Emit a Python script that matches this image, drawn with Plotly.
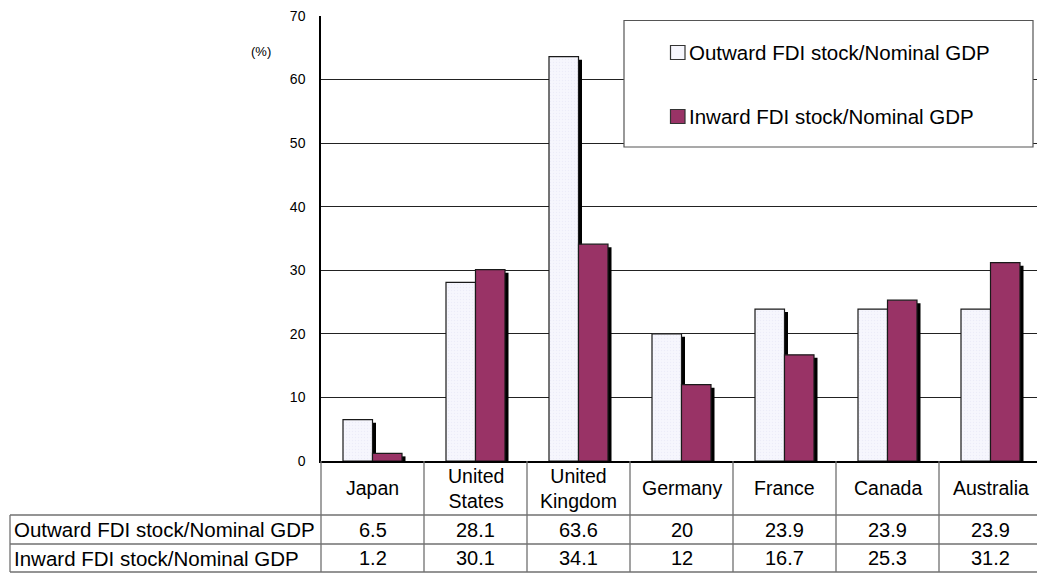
import plotly.graph_objects as go

# ---------------- data ----------------
categories = ["Japan", "United States", "United Kingdom", "Germany", "France", "Canada", "Australia"]
series_names = ["Outward FDI stock/Nominal GDP", "Inward FDI stock/Nominal GDP"]
outward = [6.5, 28.1, 63.6, 20, 23.9, 23.9, 23.9]
inward = [1.2, 30.1, 34.1, 12, 16.7, 25.3, 31.2]
y_ticks = [0, 10, 20, 30, 40, 50, 60, 70]
unit_label = "(%)"

# ---------------- layout geometry ----------------
W, H = 1037, 573
ML, MR, MT, MB = 321, 0, 16, 112
PW, PH = W - ML - MR, H - MT - MB
CAT_PX = 103.0
XR = [-0.5, -0.5 + PW / CAT_PX]
YR = [0, 70]

FONT = "Liberation Sans, Arial, sans-serif"
OUT_FILL = "#f6f6fd"
IN_FILL = "#993366"
EDGE = "#1a1a1a"
TABLE_LINE = "#707070"


def px_x(px):
    return (px - ML) / PW


def px_y(py):
    return (H - MB - py) / PH


xs = list(range(len(categories)))
bw = 29.5 / CAT_PX
shadow_dx = 3.5 / CAT_PX
shadow_dy = 3.0 * (YR[1] - YR[0]) / PH

fig = go.Figure()

# shadows + bars
for vals, off, fill, name in [(outward, -bw, OUT_FILL, series_names[0]),
                              (inward, 0.0, IN_FILL, series_names[1])]:
    fig.add_trace(go.Bar(
        x=xs, y=[max(v - shadow_dy, 0) for v in vals], width=bw, offset=off + shadow_dx,
        marker=dict(color="#000000", line=dict(width=0)), showlegend=False, hoverinfo="skip"))
    mk = dict(color=fill, line=dict(color=EDGE, width=1.2))
    if fill == OUT_FILL:
        mk["pattern"] = dict(shape=".", fgcolor="#e2e2f4", bgcolor=OUT_FILL, size=3, solidity=0.2)
    fig.add_trace(go.Bar(x=xs, y=vals, width=bw, offset=off, name=name, marker=mk,
                         showlegend=False))

shapes = []
annotations = []

# table lines
row_y = [461, 515, 544, 572]
bounds = [i - 0.5 for i in range(len(categories) + 1)]
for b in bounds[1:-1]:
    shapes.append(dict(type="line", xref="x", yref="paper", x0=b, x1=b,
                       y0=px_y(row_y[0]), y1=px_y(row_y[3]),
                       line=dict(color=TABLE_LINE, width=1.3)))
shapes.append(dict(type="line", xref="paper", yref="paper", x0=0, x1=0,
                   y0=px_y(row_y[0]), y1=px_y(row_y[3]),
                   line=dict(color=TABLE_LINE, width=1.3)))
shapes.append(dict(type="line", xref="paper", yref="paper", x0=px_x(10), x1=px_x(10),
                   y0=px_y(row_y[1]), y1=px_y(row_y[3]),
                   line=dict(color=TABLE_LINE, width=1.3)))
for ry in row_y[1:]:
    shapes.append(dict(type="line", xref="paper", yref="paper", x0=px_x(10), x1=1,
                       y0=px_y(ry), y1=px_y(ry),
                       line=dict(color=TABLE_LINE, width=1.3)))

# header labels
for i, c in enumerate(categories):
    annotations.append(dict(xref="x", yref="paper", x=i, y=px_y((row_y[0] + row_y[1]) / 2),
                            text=c.replace(" ", "<br>"), showarrow=False,
                            xanchor="center", yanchor="middle",
                            font=dict(family=FONT, size=19.5, color="#000")))
# data rows
for r, (name, vals) in enumerate(zip(series_names, [outward, inward])):
    yc = px_y((row_y[r + 1] + row_y[r + 2]) / 2)
    annotations.append(dict(xref="paper", yref="paper", x=px_x(12), y=yc, text=name,
                            showarrow=False, xanchor="left", yanchor="middle",
                            font=dict(family=FONT, size=20.5, color="#000")))
    for i, v in enumerate(vals):
        annotations.append(dict(xref="x", yref="paper", x=i, y=yc, text=f"{v:g}",
                                showarrow=False, xanchor="center", yanchor="middle",
                                font=dict(family=FONT, size=20, color="#000")))

# unit label
annotations.append(dict(xref="paper", yref="paper", x=px_x(261), y=px_y(51.5), text=unit_label,
                        showarrow=False, xanchor="center", yanchor="middle",
                        font=dict(family=FONT, size=13, color="#000")))

# manual legend
shapes.append(dict(type="rect", xref="paper", yref="paper", layer="above",
                   x0=px_x(624), x1=px_x(1033), y0=px_y(147), y1=px_y(20.5),
                   fillcolor="#ffffff", line=dict(color="#555555", width=1.2)))
for (name, fill), cy in zip([(series_names[0], OUT_FILL), (series_names[1], IN_FILL)], [52.5, 116.5]):
    shapes.append(dict(type="rect", xref="paper", yref="paper", layer="above",
                       x0=px_x(670.5), x1=px_x(685), y0=px_y(cy + 7), y1=px_y(cy - 7),
                       fillcolor=fill, line=dict(color="#333333", width=1.2)))
    annotations.append(dict(xref="paper", yref="paper", x=px_x(687), y=px_y(cy), text=name,
                            showarrow=False, xanchor="left", yanchor="middle",
                            font=dict(family=FONT, size=20.5, color="#000")))

fig.update_layout(
    width=W, height=H,
    margin=dict(l=ML, r=MR, t=MT, b=MB, pad=0),
    paper_bgcolor="#ffffff", plot_bgcolor="#ffffff",
    barmode="overlay", showlegend=False,
    shapes=shapes, annotations=annotations,
    font=dict(family=FONT, color="#000"),
)
fig.update_xaxes(range=XR, showticklabels=False, showgrid=False, zeroline=False,
                 showline=True, linecolor="#000", linewidth=2, ticks="")
fig.update_yaxes(range=YR, tickvals=y_ticks, showgrid=True, gridcolor="#222", gridwidth=1,
                 zeroline=False, showline=True, linecolor="#000", linewidth=1.5,
                 ticks="outside", ticklen=11, tickcolor="rgba(0,0,0,0)",
                 tickfont=dict(family=FONT, size=14, color="#000"))

fig.write_html("out.html")
